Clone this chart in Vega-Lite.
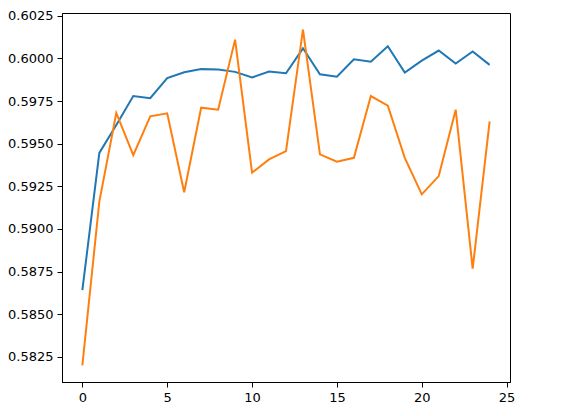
{
  "$schema": "https://vega.github.io/schema/vega-lite/v6.json",
  "width": 448,
  "height": 369,
  "autosize": "none",
  "padding": {"left": 62, "top": 13, "right": 68, "bottom": 34},
  "config": {
    "view": {"stroke": "black", "strokeWidth": 1},
    "axis": {"domainColor": "black", "tickColor": "black", "labelColor": "black", "labelFont": "DejaVu Sans", "labelFontSize": 13, "tickSize": 5, "grid": false, "domainWidth": 1, "tickWidth": 1, "labelPadding": 4}
  },
  "data": {"values": [
    {"epoch": 0, "series": "a", "value": 0.58641},
    {"epoch": 1, "series": "a", "value": 0.59446},
    {"epoch": 2, "series": "a", "value": 0.59610},
    {"epoch": 3, "series": "a", "value": 0.59779},
    {"epoch": 4, "series": "a", "value": 0.59767},
    {"epoch": 5, "series": "a", "value": 0.59884},
    {"epoch": 6, "series": "a", "value": 0.59919},
    {"epoch": 7, "series": "a", "value": 0.59937},
    {"epoch": 8, "series": "a", "value": 0.59935},
    {"epoch": 9, "series": "a", "value": 0.59921},
    {"epoch": 10, "series": "a", "value": 0.59888},
    {"epoch": 11, "series": "a", "value": 0.59923},
    {"epoch": 12, "series": "a", "value": 0.59913},
    {"epoch": 13, "series": "a", "value": 0.60059},
    {"epoch": 14, "series": "a", "value": 0.59907},
    {"epoch": 15, "series": "a", "value": 0.59892},
    {"epoch": 16, "series": "a", "value": 0.59995},
    {"epoch": 17, "series": "a", "value": 0.59980},
    {"epoch": 18, "series": "a", "value": 0.60071},
    {"epoch": 19, "series": "a", "value": 0.59917},
    {"epoch": 20, "series": "a", "value": 0.59987},
    {"epoch": 21, "series": "a", "value": 0.60046},
    {"epoch": 22, "series": "a", "value": 0.59970},
    {"epoch": 23, "series": "a", "value": 0.60040},
    {"epoch": 24, "series": "a", "value": 0.59962},
    {"epoch": 0, "series": "b", "value": 0.58201},
    {"epoch": 1, "series": "b", "value": 0.59160},
    {"epoch": 2, "series": "b", "value": 0.59680},
    {"epoch": 3, "series": "b", "value": 0.59433},
    {"epoch": 4, "series": "b", "value": 0.59660},
    {"epoch": 5, "series": "b", "value": 0.59678},
    {"epoch": 6, "series": "b", "value": 0.59215},
    {"epoch": 7, "series": "b", "value": 0.59711},
    {"epoch": 8, "series": "b", "value": 0.59699},
    {"epoch": 9, "series": "b", "value": 0.60110},
    {"epoch": 10, "series": "b", "value": 0.59330},
    {"epoch": 11, "series": "b", "value": 0.59408},
    {"epoch": 12, "series": "b", "value": 0.59456},
    {"epoch": 13, "series": "b", "value": 0.60168},
    {"epoch": 14, "series": "b", "value": 0.59437},
    {"epoch": 15, "series": "b", "value": 0.59394},
    {"epoch": 16, "series": "b", "value": 0.59417},
    {"epoch": 17, "series": "b", "value": 0.59779},
    {"epoch": 18, "series": "b", "value": 0.59723},
    {"epoch": 19, "series": "b", "value": 0.59417},
    {"epoch": 20, "series": "b", "value": 0.59203},
    {"epoch": 21, "series": "b", "value": 0.59310},
    {"epoch": 22, "series": "b", "value": 0.59699},
    {"epoch": 23, "series": "b", "value": 0.58767},
    {"epoch": 24, "series": "b", "value": 0.59631}
  ]},
  "mark": {"type": "line", "strokeWidth": 2, "clip": true},
  "encoding": {
    "x": {"field": "epoch", "type": "quantitative", "scale": {"domain": [-1.2, 25.2], "nice": false, "zero": false},
      "axis": {"title": null, "values": [0, 5, 10, 15, 20, 25], "format": "d"}},
    "y": {"field": "value", "type": "quantitative", "scale": {"domain": [0.58103, 0.60266], "nice": false, "zero": false},
      "axis": {"title": null, "values": [0.5825, 0.585, 0.5875, 0.59, 0.5925, 0.595, 0.5975, 0.6, 0.6025], "format": ".4f"}},
    "color": {"field": "series", "type": "nominal", "scale": {"domain": ["a", "b"], "range": ["#1f77b4", "#ff7f0e"]}, "legend": null}
  }
}
